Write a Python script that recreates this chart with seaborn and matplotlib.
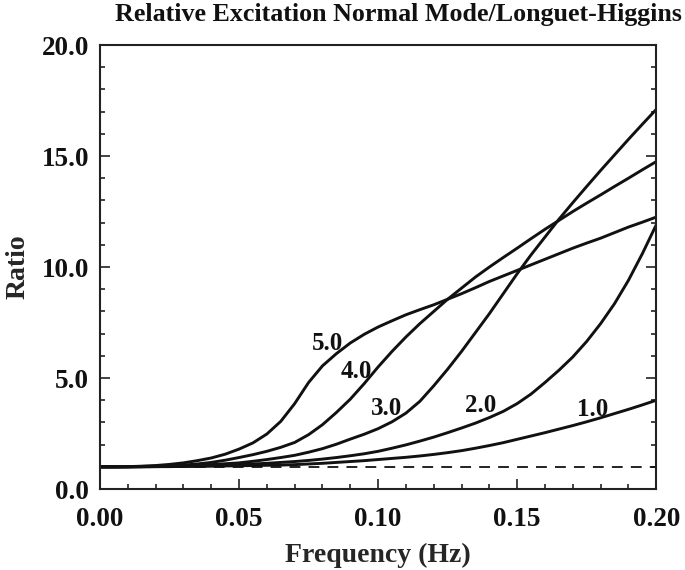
import numpy as np
import pandas as pd
import matplotlib
matplotlib.use('Agg')
import matplotlib.pyplot as plt
import seaborn as sns

# values
freq = [0.000, 0.005, 0.010, 0.015, 0.020, 0.025, 0.030, 0.035, 0.040, 0.045,
        0.050, 0.055, 0.060, 0.065, 0.070, 0.075, 0.080, 0.085, 0.090, 0.095,
        0.100, 0.105, 0.110, 0.115, 0.120, 0.125, 0.130, 0.135, 0.140, 0.145,
        0.150, 0.155, 0.160, 0.165, 0.170, 0.175, 0.180, 0.185, 0.190, 0.195, 0.200]

ratio_1 = [1.00, 1.00, 1.00, 1.00, 1.01, 1.01, 1.02, 1.02, 1.03, 1.04,
           1.05, 1.06, 1.07, 1.08, 1.10, 1.13, 1.16, 1.20, 1.24, 1.28,
           1.33, 1.38, 1.43, 1.49, 1.56, 1.64, 1.73, 1.84, 1.96, 2.09,
           2.24, 2.39, 2.54, 2.70, 2.86, 3.03, 3.21, 3.40, 3.59, 3.79, 4.00]
ratio_2 = [1.00, 1.00, 1.00, 1.01, 1.01, 1.02, 1.03, 1.04, 1.06, 1.08,
           1.10, 1.13, 1.16, 1.20, 1.24, 1.29, 1.35, 1.42, 1.50, 1.59,
           1.70, 1.84, 1.99, 2.16, 2.34, 2.54, 2.75, 2.97, 3.22, 3.50,
           3.85, 4.28, 4.80, 5.35, 5.95, 6.65, 7.45, 8.35, 9.40, 10.60, 11.90]
ratio_3 = [1.00, 1.00, 1.00, 1.01, 1.02, 1.03, 1.05, 1.07, 1.10, 1.14,
           1.18, 1.25, 1.33, 1.42, 1.52, 1.66, 1.82, 2.02, 2.25, 2.47,
           2.72, 3.03, 3.42, 3.95, 4.65, 5.40, 6.20, 7.05, 7.90, 8.80,
           9.70, 10.55, 11.35, 12.15, 12.90, 13.63, 14.35, 15.05, 15.75, 16.43, 17.10]
ratio_4 = [1.00, 1.00, 1.01, 1.02, 1.03, 1.05, 1.08, 1.13, 1.20, 1.30,
           1.42, 1.55, 1.70, 1.88, 2.10, 2.45, 2.90, 3.45, 4.05, 4.75,
           5.50, 6.20, 6.85, 7.45, 8.00, 8.55, 9.05, 9.55, 10.00, 10.43,
           10.85, 11.28, 11.70, 12.10, 12.50, 12.88, 13.25, 13.63, 14.00, 14.38, 14.75]
ratio_5 = [1.00, 1.00, 1.01, 1.03, 1.06, 1.11, 1.18, 1.28, 1.40, 1.57,
           1.80, 2.08, 2.48, 3.05, 3.85, 4.80, 5.55, 6.10, 6.58, 6.97,
           7.30, 7.58, 7.85, 8.08, 8.30, 8.55, 8.80, 9.07, 9.35, 9.60,
           9.85, 10.10, 10.35, 10.60, 10.85, 11.08, 11.30, 11.55, 11.80, 12.02, 12.25]

curve_names = ['1.0', '2.0', '3.0', '4.0', '5.0']
label_x = [0.1772, 0.1370, 0.1029, 0.0921, 0.0818]
label_y = [3.60, 3.78, 3.63, 5.29, 6.55]

x_ticks = [0.00, 0.05, 0.10, 0.15, 0.20]
y_ticks = [0.0, 5.0, 10.0, 15.0, 20.0]

df = pd.DataFrame({'freq': freq, '1.0': ratio_1, '2.0': ratio_2, '3.0': ratio_3,
                   '4.0': ratio_4, '5.0': ratio_5})

sns.set_style('ticks')
plt.rcParams['font.family'] = ['Liberation Serif', 'DejaVu Serif']
plt.rcParams['font.weight'] = 'bold'
plt.rcParams['text.color'] = '#111111'

fig = plt.figure(figsize=(6.85, 5.7), dpi=100)
ax = fig.add_axes([0.146, 0.142, 0.812, 0.779])

for name in curve_names:
    sns.lineplot(x='freq', y=name, data=df, color='#111111', lw=2.1, ax=ax)

# baseline ratio of one
ax.plot([0.0, 0.2], [1.0, 1.0], color='#111111', lw=1.3, ls=(0, (6, 4.5)))

for name, lx, ly in zip(curve_names, label_x, label_y):
    ax.text(lx, ly, name, ha='center', va='center', fontsize=18, fontweight='bold')

ax.set_xlim(0.0, 0.2)
ax.set_ylim(0.0, 20.0)
ax.set_xticks(x_ticks)
ax.set_xticklabels(['%.2f' % v for v in x_ticks])
ax.set_yticks(y_ticks)
ax.set_yticklabels(['%.1f' % v for v in y_ticks])
ax.set_xticks(np.arange(0.0, 0.2001, 0.01), minor=True)
ax.set_yticks(np.arange(0.0, 20.001, 1.0), minor=True)
ax.tick_params(which='both', direction='in', top=False, right=True, width=1.2,
               color='#222222', labelcolor='#111111', labelsize=19.5)
ax.tick_params(which='major', length=7)
ax.tick_params(which='minor', length=3.5)
ax.tick_params(axis='x', pad=13)
ax.tick_params(axis='y', pad=8)
for s in ax.spines.values():
    s.set_linewidth(1.5)
    s.set_color('#222222')

ax.set_xlabel('Frequency (Hz)', fontsize=20, fontweight='bold')
ax.xaxis.set_label_coords(0.5, -0.122)
ax.set_ylabel('Ratio', fontsize=20, fontweight='bold', labelpad=8)
fig.text(0.582, 0.974, 'Relative Excitation Normal Mode/Longuet-Higgins',
         ha='center', va='center', fontsize=18.7, fontweight='bold')

plt.savefig('out.png', dpi=100)
